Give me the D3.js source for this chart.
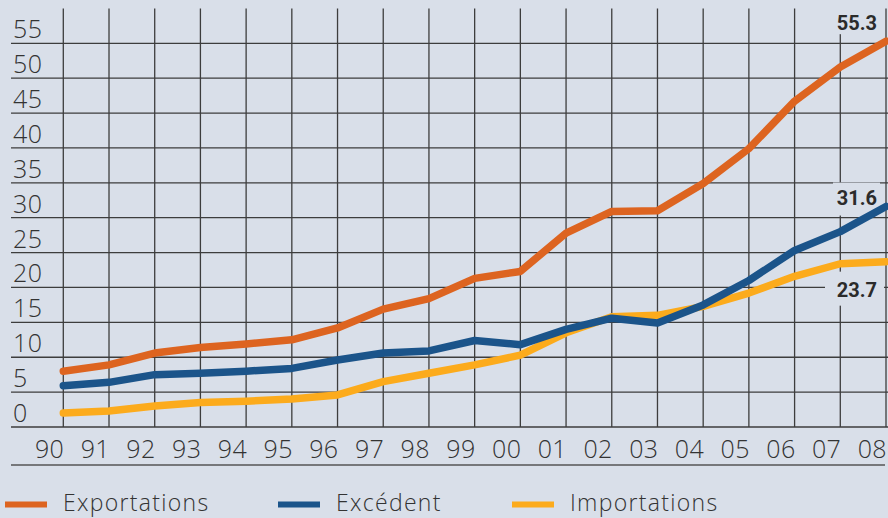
<!DOCTYPE html>
<html>
<head>
<meta charset="utf-8">
<script src="https://cdn.jsdelivr.net/npm/d3@7"></script>
<style>
  html, body { margin: 0; padding: 0; background: #D9DFE9; }
  svg { display: block; }
</style>
</head>
<body>
<svg id="chart" width="888" height="518"></svg>
<script>
// ---- data ----
const years = ["90","91","92","93","94","95","96","97","98","99","00","01","02","03","04","05","06","07","08"];
const exportations = [8.0, 8.9, 10.6, 11.4, 11.9, 12.5, 14.2, 16.9, 18.4, 21.3, 22.3, 27.8, 30.9, 31.0, 34.9, 39.9, 46.7, 51.6, 55.3];
const excedent     = [5.9, 6.4, 7.5, 7.7, 8.0, 8.4, 9.6, 10.6, 10.9, 12.4, 11.8, 14.0, 15.6, 14.9, 17.5, 21.0, 25.3, 28.0, 31.6];
const importations = [2.0, 2.3, 3.0, 3.5, 3.7, 4.0, 4.6, 6.5, 7.7, 8.9, 10.3, 13.5, 15.8, 16.0, 17.3, 19.2, 21.6, 23.4, 23.7];
const yTicks = [0, 5, 10, 15, 20, 25, 30, 35, 40, 45, 50, 55];
const seriesNames = ["Exportations", "Excédent", "Importations"];
const endLabels = ["55.3", "31.6", "23.7"];

const colors = { Exportations: "#DD6420", "Excédent": "#1B548A", Importations: "#FCAB1C" };
const bg = "#D9DFE9";
const gridColor = "#3d3d3d";
const textColor = "#333333";
const font = "'Open Sans', 'Liberation Sans', sans-serif";

const svg = d3.select("#chart");

const x = d3.scalePoint().domain(years).range([63.3, 886]);
const y = d3.scaleLinear().domain([0, 60]).range([427, 8.4]);

const left = 11, right = 888;

// horizontal grid lines
svg.append("g").selectAll("line").data(yTicks).join("line")
  .attr("x1", left).attr("x2", right)
  .attr("y1", d => y(d)).attr("y2", d => y(d))
  .attr("stroke", gridColor).attr("stroke-width", 1.3);

// vertical grid lines
svg.append("g").selectAll("line").data(years).join("line")
  .attr("x1", d => x(d)).attr("x2", d => x(d))
  .attr("y1", y(60)).attr("y2", y(0))
  .attr("stroke", gridColor).attr("stroke-width", 1.3);

// y tick labels
svg.append("g").selectAll("text").data(yTicks).join("text")
  .attr("x", 13).attr("y", d => y(d) - 5)
  .attr("font-family", font).attr("font-weight", 300)
  .attr("font-size", 25).attr("letter-spacing", 0.6).attr("fill", textColor)
  .text(d => d);

// x tick labels
svg.append("g").selectAll("text").data(years).join("text")
  .attr("x", d => x(d) + 1).attr("y", 458)
  .attr("text-anchor", "end")
  .attr("font-family", font).attr("font-weight", 300)
  .attr("font-size", 25).attr("letter-spacing", 0.4).attr("fill", textColor)
  .text(d => d);

// lower rule under year labels
svg.append("line")
  .attr("x1", left).attr("x2", 885)
  .attr("y1", 465).attr("y2", 465)
  .attr("stroke", "#555").attr("stroke-width", 1.6);

// end label knock-out boxes (behind the lines)
const lastYear = years[years.length - 1];
const labelDefs = [
  { text: endLabels[0], val: exportations[exportations.length - 1], dy: -11, box: [-53, -34, 47, 27] },
  { text: endLabels[1], val: excedent[excedent.length - 1], dy: -2, box: [-53, -24, 47, 33] },
  { text: endLabels[2], val: importations[importations.length - 1], dy: 35, box: [-61, 10, 59, 34] }
];
labelDefs.forEach(l => {
  const bx = x(lastYear), by = y(l.val);
  svg.append("rect")
    .attr("x", bx + l.box[0]).attr("y", by + l.box[1])
    .attr("width", l.box[2]).attr("height", l.box[3])
    .attr("fill", bg);
});

// lines
const line = d3.line().x((d, i) => x(years[i])).y(d => y(d));
const seriesData = { Exportations: exportations, "Excédent": excedent, Importations: importations };
["Importations", "Excédent", "Exportations"].forEach(name => {
  svg.append("path")
    .datum(seriesData[name])
    .attr("d", line)
    .attr("fill", "none")
    .attr("stroke", colors[name])
    .attr("stroke-width", 7.5)
    .attr("stroke-linejoin", "round")
    .attr("stroke-linecap", "round");
});

// end labels
labelDefs.forEach(l => {
  const bx = x(lastYear), by = y(l.val);
  svg.append("text")
    .attr("x", bx - 9).attr("y", by + l.dy)
    .attr("text-anchor", "end")
    .attr("font-family", "Roboto, 'Liberation Sans', sans-serif")
    .attr("font-weight", 700)
    .attr("font-size", 20).attr("fill", "#2b2b2b")
    .text(l.text);
});

// legend
const legendX = [5, 278, 512];
seriesNames.forEach((name, i) => {
  svg.append("line")
    .attr("x1", legendX[i]).attr("x2", legendX[i] + 42)
    .attr("y1", 504.5).attr("y2", 504.5)
    .attr("stroke", colors[name]).attr("stroke-width", 6);
  svg.append("text")
    .attr("x", legendX[i] + 58).attr("y", 511)
    .attr("font-family", font).attr("font-weight", 300)
    .attr("font-size", 23).attr("letter-spacing", 1.3).attr("fill", textColor)
    .text(name);
});
</script>
</body>
</html>
